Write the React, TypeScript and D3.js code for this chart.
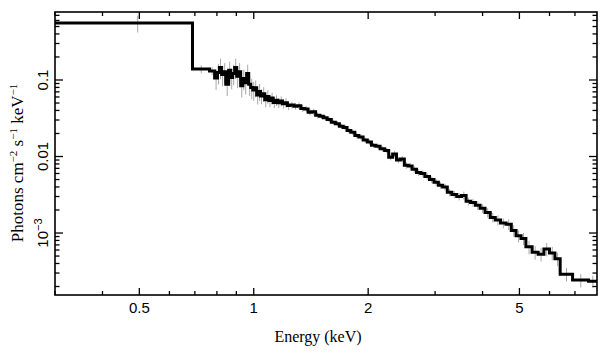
import React from "react";
import * as d3 from "d3";

const binEdges = [0.3, 0.69, 0.765, 0.789, 0.803, 0.812, 0.823, 0.833, 0.844, 0.859, 0.870, 0.880, 0.891, 0.902, 0.912, 0.924, 0.936, 0.947, 0.958, 0.970, 0.982, 0.994, 1.006, 1.018, 1.030, 1.042, 1.055, 1.069, 1.082, 1.096, 1.110, 1.125, 1.140, 1.156, 1.172, 1.190, 1.207, 1.226, 1.245, 1.275, 1.300, 1.330, 1.360, 1.390, 1.420, 1.455, 1.490, 1.525, 1.560, 1.600, 1.640, 1.680, 1.720, 1.760, 1.800, 1.845, 1.890, 1.940, 1.990, 2.040, 2.095, 2.150, 2.210, 2.265, 2.320, 2.375, 2.430, 2.490, 2.550, 2.610, 2.680, 2.750, 2.820, 2.900, 2.980, 3.060, 3.140, 3.230, 3.320, 3.420, 3.520, 3.620, 3.720, 3.830, 3.940, 4.060, 4.190, 4.320, 4.460, 4.610, 4.760, 4.900, 5.050, 5.200, 5.400, 5.600, 5.800, 6.000, 6.200, 6.400, 6.900, 7.600, 8.0];

const fluxValues = [0.556, 0.139, 0.131,
  0.106, 0.125, 0.146, 0.118, 0.128, 0.088, 0.134, 0.108, 0.122, 0.146, 0.112, 0.128, 0.084, 0.105, 0.092, 0.122, 0.088, 0.080, 0.074, 0.079, 0.0637, 0.071, 0.062, 0.066, 0.055, 0.061, 0.054, 0.058, 0.051, 0.0545, 0.0505, 0.053, 0.049, 0.0505, 0.0465,
  0.0470, 0.0455, 0.0462, 0.0425, 0.0418, 0.0380, 0.0385, 0.0345, 0.0336, 0.0322, 0.0305, 0.0280, 0.0268, 0.0248, 0.0240, 0.0218, 0.0208, 0.0188, 0.0180, 0.0164, 0.0155, 0.0140, 0.0136, 0.0126, 0.0120, 0.0098, 0.0108, 0.0090, 0.0093, 0.0077, 0.0075, 0.0068, 0.0062, 0.0060, 0.0055, 0.0050, 0.0046, 0.0042, 0.0040, 0.0034, 0.0032, 0.0030, 0.0031, 0.0026, 0.0025, 0.0023, 0.0021, 0.00185, 0.00160, 0.00148, 0.00135, 0.00130, 0.00108, 0.00092, 0.00085, 0.00066, 0.00056, 0.00053, 0.00062, 0.00055, 0.00046, 0.00029, 0.000243, 0.000235];

const relErrors = [0.25, 0.12, 0.12, 0.3, 0.3, 0.3, 0.3, 0.3, 0.3, 0.3, 0.3, 0.3, 0.3, 0.3, 0.3, 0.3, 0.3, 0.3, 0.3, 0.3, 0.3, 0.28, 0.25, 0.25, 0.25, 0.22, 0.22, 0.2, 0.2, 0.18, 0.18, 0.16, 0.16, 0.15, 0.15, 0.14, 0.14, 0.13,
  0.1, 0.1, 0.1, 0.1, 0.09, 0.09, 0.09, 0.09, 0.08, 0.08, 0.08, 0.08, 0.08, 0.08, 0.08, 0.08, 0.08, 0.08, 0.08, 0.08, 0.08, 0.08, 0.08, 0.08, 0.08, 0.09, 0.09, 0.09, 0.09, 0.1, 0.1, 0.1, 0.1, 0.1, 0.1, 0.1, 0.1, 0.1, 0.1, 0.11, 0.11, 0.11, 0.12, 0.12, 0.12, 0.13, 0.13, 0.14, 0.14, 0.15, 0.15, 0.16, 0.17, 0.18, 0.18, 0.2, 0.2, 0.2, 0.2, 0.2, 0.2, 0.2, 0.2, 0.18];

const xMajorTicks = [0.5, 1, 2, 5];
const xMinorTicks = [0.3, 0.4, 0.6, 0.7, 0.8, 0.9, 3, 4, 6, 7];
const yMajorTicks = [0.1, 0.01, 0.001];
const yTickLabels = ["0.1", "0.01", "10"];
const yTickSup = ["", "", "−3"];

const W = 609, H = 357;
const L = 55, R = 597, T = 12, B = 295;

export default function App() {
  const x = d3.scaleLog().domain([0.3, 8]).range([L, R]);
  const y = d3.scaleLog().domain([1.549e-4, 0.774]).range([B, T]);

  const pts: [number, number][] = fluxValues.map((v, i) => [binEdges[i], v]);
  pts.push([binEdges[binEdges.length - 1], fluxValues[fluxValues.length - 1]]);
  const line = d3.line<[number, number]>().x(d => x(d[0])).y(d => y(d[1])).curve(d3.curveStepAfter);

  const yMinor: number[] = [];
  for (let d = -4; d <= 0; d++) {
    for (let k = 2; k <= 9; k++) {
      const v = k * Math.pow(10, d);
      if (v > 1.549e-4 && v < 0.774) yMinor.push(v);
    }
  }

  const sans = "'Liberation Sans', Arial, sans-serif";
  const serif = "'Liberation Serif', 'Times New Roman', serif";

  return (
    <svg width={W} height={H} style={{ position: "absolute", left: 0, top: 0, background: "#fff" }}>
      <g stroke="#a8a8a8" strokeWidth={1}>
        {fluxValues.map((v, i) => {
          const c = (binEdges[i] + binEdges[i + 1]) / 2;
          const e = relErrors[i];
          return <line key={i} x1={x(c)} x2={x(c)} y1={y(v * (1 + e))} y2={y(v * (1 - e))} />;
        })}
      </g>
      <path d={line(pts) || ""} fill="none" stroke="#000" strokeWidth={3} strokeLinejoin="miter" />
      <rect x={L} y={T} width={R - L} height={B - T} fill="none" stroke="#000" strokeWidth={1.6} />
      <g stroke="#000" strokeWidth={1.3}>
        {xMajorTicks.map(t => (
          <g key={"xm" + t}>
            <line x1={x(t)} x2={x(t)} y1={B} y2={B - 7} />
            <line x1={x(t)} x2={x(t)} y1={T} y2={T + 7} />
          </g>
        ))}
        {xMinorTicks.map(t => (
          <g key={"xn" + t}>
            <line x1={x(t)} x2={x(t)} y1={B} y2={B - 4} />
            <line x1={x(t)} x2={x(t)} y1={T} y2={T + 4} />
          </g>
        ))}
        {yMajorTicks.map(t => (
          <g key={"ym" + t}>
            <line x1={L} x2={L + 8} y1={y(t)} y2={y(t)} />
            <line x1={R} x2={R - 8} y1={y(t)} y2={y(t)} />
          </g>
        ))}
        {yMinor.map(t => (
          <g key={"yn" + t}>
            <line x1={L} x2={L + 4.5} y1={y(t)} y2={y(t)} />
            <line x1={R} x2={R - 4.5} y1={y(t)} y2={y(t)} />
          </g>
        ))}
      </g>
      <g fontFamily={sans} fontSize={15} fill="#000" textAnchor="middle">
        {xMajorTicks.map(t => (
          <text key={"xl" + t} x={x(t)} y={313}>{String(t)}</text>
        ))}
      </g>
      <g fontFamily={sans} fontSize={15} fill="#000" textAnchor="middle">
        {yMajorTicks.map((t, i) => (
          <text key={"yl" + t} transform={`translate(47.5,${y(t)}) rotate(-90)`}>
            {yTickLabels[i]}
            {yTickSup[i] ? <tspan fontSize={11} dy={-6}>{yTickSup[i]}</tspan> : null}
          </text>
        ))}
      </g>
      <text x={318} y={342} fontFamily={serif} fontSize={16} textAnchor="middle" fill="#000">Energy (keV)</text>
      <text transform={`translate(23,163) rotate(-90)`} fontFamily={serif} fontSize={17} textAnchor="middle" fill="#000">
        Photons cm<tspan fontSize={11} dy={-6}>−2</tspan>
        <tspan dy={6}> s</tspan><tspan fontSize={11} dy={-6}>−1</tspan>
        <tspan dy={6}> keV</tspan><tspan fontSize={11} dy={-6}>−1</tspan>
      </text>
    </svg>
  );
}
